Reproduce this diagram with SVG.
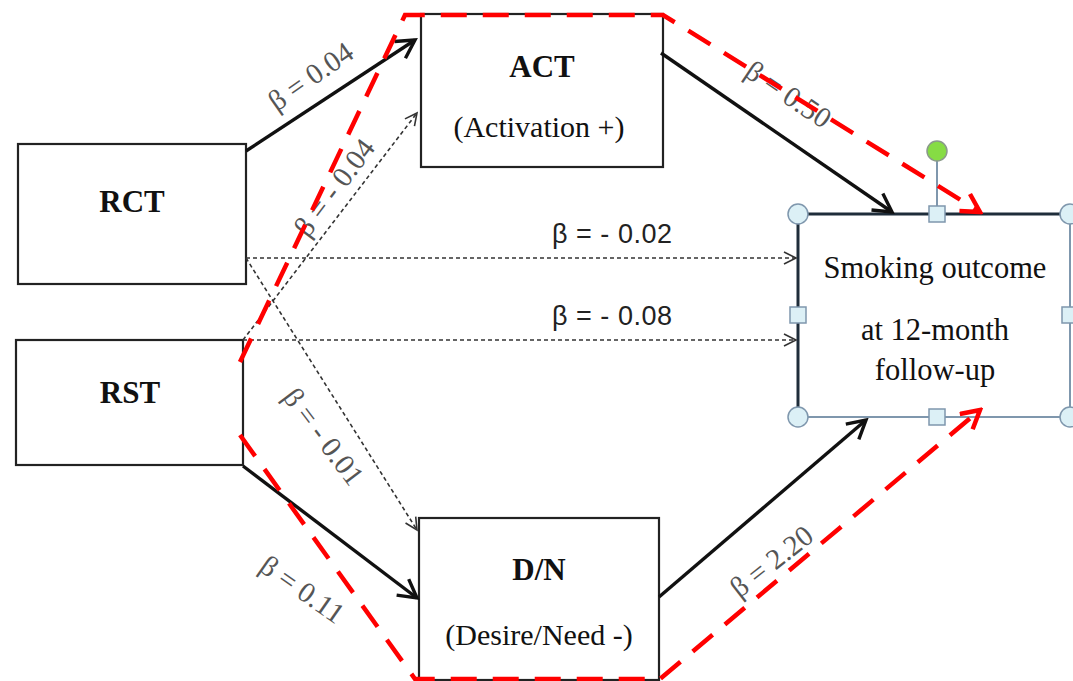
<svg xmlns="http://www.w3.org/2000/svg" width="1073" height="681" viewBox="0 0 1073 681">
<defs>
<style>
.box{fill:#fff;stroke:#222;stroke-width:2.2}
.nt{font-family:"Liberation Serif","Times New Roman",serif;fill:#111;text-anchor:middle}
.b{font-weight:bold;font-size:31px}
.s{font-size:30px}
.st{font-size:30.5px}
.solid{fill:none;stroke:#111;stroke-width:3.4}
.dash{fill:none;stroke:#333;stroke-width:1.6;stroke-dasharray:4 3}
.red{fill:none;stroke:#ff0000;stroke-width:4.5;stroke-dasharray:26 16}
.bl{font-family:"Liberation Serif","Times New Roman",serif;font-size:29px;fill:#555;text-anchor:middle}
.hl{font-family:"Liberation Sans",Arial,sans-serif;font-size:27px;fill:#222;text-anchor:middle}
.hc{fill:#dcf0f6;stroke:#7f97ad;stroke-width:1.5}
</style>
<marker id="ah" viewBox="0 0 24 24" refX="21" refY="12" markerWidth="24" markerHeight="24" markerUnits="userSpaceOnUse" orient="auto"><path d="M3,2 L21,12 L3,22" fill="none" stroke="#111" stroke-width="3.4"/></marker>
<marker id="ahd" viewBox="0 0 16 16" refX="14" refY="8" markerWidth="16" markerHeight="16" markerUnits="userSpaceOnUse" orient="auto"><path d="M2,2 L14,8 L2,14" fill="none" stroke="#333" stroke-width="1.6"/></marker>
<marker id="ahr" viewBox="0 0 24 24" refX="21" refY="12" markerWidth="24" markerHeight="24" markerUnits="userSpaceOnUse" orient="auto"><path d="M3,2 L21,12 L3,22" fill="none" stroke="#ff0000" stroke-width="4.5"/></marker>
</defs>
<rect width="1073" height="681" fill="#fff"/>

<g id="node-rct"><rect class="box" x="18" y="144" width="228" height="140"/><text class="nt b" x="132" y="212">RCT</text></g>
<g id="node-rst"><rect class="box" x="16" y="340" width="227" height="125"/><text class="nt b" x="130" y="403">RST</text></g>
<g id="node-act"><rect class="box" x="421" y="14" width="242" height="153"/><text class="nt b" x="542" y="77">ACT</text><text class="nt s" x="539" y="137">(Activation +)</text></g>
<g id="node-dn"><rect class="box" x="419" y="518" width="240" height="162"/><text class="nt b" x="539" y="580">D/N</text><text class="nt s" x="539" y="645">(Desire/Need -)</text></g>
<g id="node-smoking">
<rect x="798" y="214" width="272" height="203" fill="#fff" stroke="#7f97ad" stroke-width="2"/>
<path d="M798,417 L798,214 L1070,214" fill="none" stroke="#1f2d3a" stroke-width="3"/>
<text class="nt st" x="935" y="278">Smoking outcome</text>
<text class="nt st" x="935" y="340">at 12-month</text>
<text class="nt st" x="935" y="380">follow-up</text>
<line x1="937" y1="160" x2="937" y2="207" stroke="#7f97ad" stroke-width="2"/>
<circle cx="937" cy="151" r="10" fill="#86dc44" stroke="#8a9a8a" stroke-width="1.5"/>
<circle class="hc" cx="798" cy="214" r="10"/><circle class="hc" cx="1070" cy="214" r="10"/>
<circle class="hc" cx="798" cy="417" r="10"/><circle class="hc" cx="1070" cy="417" r="10"/>
<rect class="hc" x="929" y="206" width="16" height="16"/><rect class="hc" x="929" y="409" width="16" height="16"/>
<rect class="hc" x="790" y="307" width="16" height="16"/><rect class="hc" x="1062" y="307" width="16" height="16"/>
</g>

<g id="connectors">
<path class="solid" d="M246,151 L415,40" marker-end="url(#ah)"/>
<path class="dash" d="M243,340 L417,113" marker-end="url(#ahd)"/>
<path class="dash" d="M246,258 L417,530" marker-end="url(#ahd)"/>
<path class="dash" d="M246,258 L796,258" marker-end="url(#ahd)"/>
<path class="dash" d="M243,340 L796,340" marker-end="url(#ahd)"/>
<path class="solid" d="M243,466 L417,598" marker-end="url(#ah)"/>
<path class="solid" d="M661,53 L892,212" marker-end="url(#ah)"/>
<path class="solid" d="M659,597 L866,420" marker-end="url(#ah)"/>
</g>

<g id="labels">
<text class="bl" transform="translate(311,77) rotate(-35)" y="9">β = 0.04</text>
<text class="bl" transform="translate(335,188) rotate(-53)" y="9">β = - 0.04</text>
<text class="bl" transform="translate(323,437) rotate(53)" y="9">β = - 0.01</text>
<text class="bl" transform="translate(302,590) rotate(35)" y="9">β = 0.11</text>
<text class="bl" transform="translate(788,95) rotate(34)" y="9">β = 0.50</text>
<text class="bl" transform="translate(772,562) rotate(-38)" y="9">β = 2.20</text>
<text class="hl" x="612" y="243" textLength="120" lengthAdjust="spacing">β = - 0.02</text>
<text class="hl" x="612" y="325" textLength="120" lengthAdjust="spacing">β = - 0.08</text>
</g>

<g id="highlight">
<path class="red" d="M240,362 L405,15 L663,15 L980,212" marker-end="url(#ahr)"/>
<path class="red" d="M240,435 L415,679 L660,679 L980,410" marker-end="url(#ahr)"/>
</g>
</svg>
